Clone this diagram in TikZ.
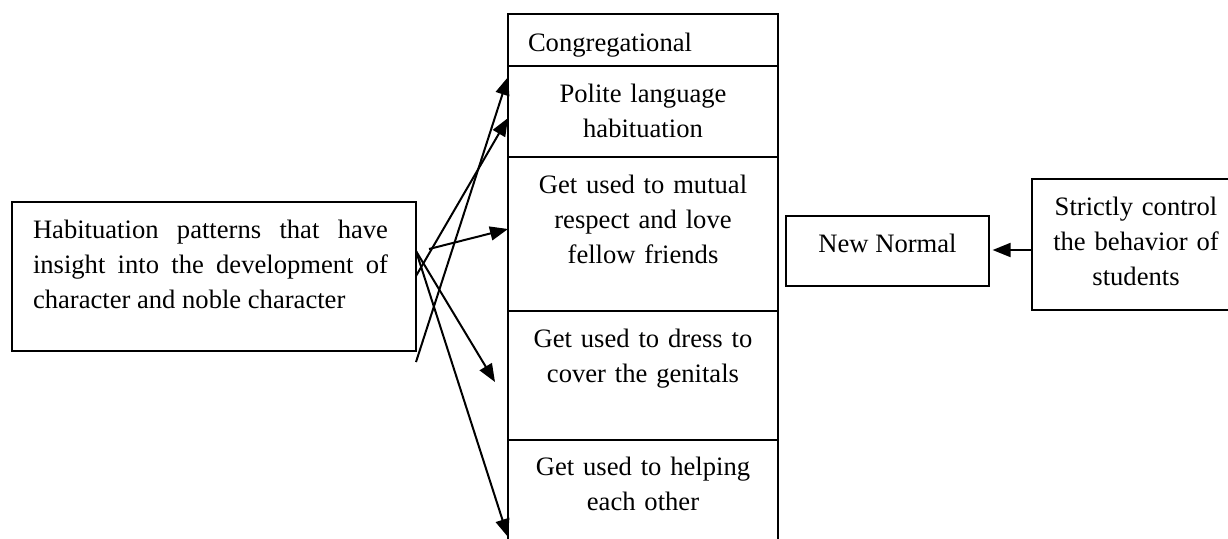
\documentclass[tikz,border=0pt]{standalone}
\usepackage{fontspec}
\setmainfont{Liberation Serif}
\usetikzlibrary{arrows.meta,calc}
\tikzset{
  box/.style={draw, line width=1pt, inner sep=0pt, outer sep=0pt, anchor=north west},
  txt/.style={inner sep=0pt, outer sep=0pt, font=\fontsize{13.3}{17.5}\selectfont},
  ctxt/.style={txt, text width=125pt, align=center, anchor=north},
  link/.style={line width=1pt, -{Triangle[length=9pt,width=7pt]}},
}
\begin{document}
\begin{tikzpicture}[x=0.5pt,y=-0.5pt]
\clip (0,0) rectangle (1228,538);
% boxes
\node[box, minimum width=202pt, minimum height=74.5pt] (habit) at (12,202) {};
\node[box, minimum width=135pt, minimum height=26pt] (cong) at (508,14) {};
\node[box, minimum width=135pt, minimum height=45.5pt] (polite) at (508,66) {};
\node[box, minimum width=135pt, minimum height=77pt] (respect) at (508,157) {};
\node[box, minimum width=135pt, minimum height=64.5pt] (dress) at (508,311) {};
\node[box, minimum width=135pt, minimum height=60pt] (help) at (508,440) {};
\node[box, minimum width=101.5pt, minimum height=35pt] (newn) at (786,216) {};
\node[box, minimum width=105pt, minimum height=65.5pt] (strict) at (1032,179) {};
% texts
\node[txt, anchor=base west] (tcong) at (528,51) {Congregational};
\node[ctxt] (tpolite) at (643,77.5) {\strut Polite language\\habituation};
\node[ctxt] (trespect) at (643,168.5) {\strut Get used to mutual\\respect and love\\fellow friends};
\node[ctxt] (tdress) at (643,322.5) {\strut Get used to dress to\\cover the genitals};
\node[ctxt] (thelp) at (643,450.5) {\strut Get used to helping\\each other};
\node[txt, anchor=base] (tnewn) at (887.5,252) {New Normal};
\node[ctxt] (tstrict) at (1136,190.5) {\strut Strictly control\\the behavior of\\students};
\node[txt, text width=177.5pt, align=justify, anchor=north west] (thabit) at (33,213.5)
  {\hbadness=10000\tolerance=10000\strut Habituation patterns that have\linebreak insight into the development of\linebreak character and noble character};
% connectors
\coordinate (bstart) at (416,362);
\coordinate (cstart) at (429,249);
\coordinate (dend) at (495,382);
\draw[link] (bstart) -- ($(polite.north west)+(0,11)$);
\draw[link] ($(habit.north east)+(0,74)$) -- ($(polite.north west)+(0,52)$);
\draw[link] (cstart) -- ($(respect.north west)+(0,72)$);
\draw[link] ($(habit.north east)+(0,49)$) -- (dend);
\draw[link] ($(habit.north east)+(0,49)$) -- ($(help.north west)+(0,97)$);
\draw[link, shorten >=1.8pt] ($(strict.north west)+(0,71)$) -- ($(newn.north east)+(0,34)$);
\end{tikzpicture}
\end{document}
